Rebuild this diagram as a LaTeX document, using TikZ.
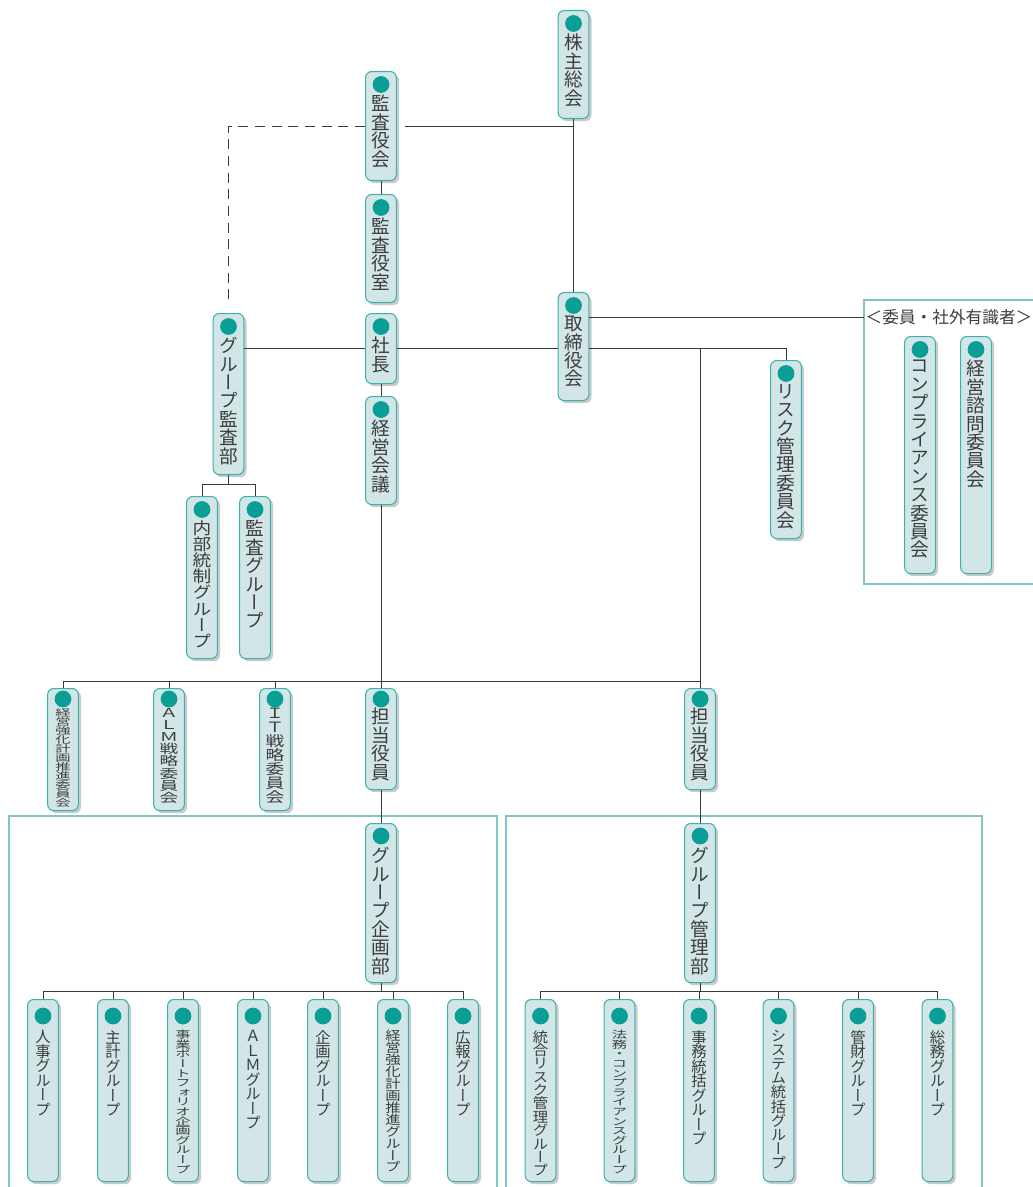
\documentclass[tikz,border=0pt]{standalone}
\usepackage{fontspec}
\usepackage{graphicx}
\usetikzlibrary{calc,shadows}
\newfontfamily\jp{Noto Sans CJK JP}
\newfontfamily\jpv[RawFeature=+vert]{Noto Sans CJK JP}
\definecolor{boxline}{HTML}{3DB1AB}
\definecolor{boxfill}{HTML}{D3E6E7}
\definecolor{dotc}{HTML}{0A9E97}
\definecolor{shadowc}{HTML}{C8CACB}
\definecolor{framec}{HTML}{7EC7C5}
\definecolor{linec}{HTML}{3A3A3A}
\definecolor{textc}{HTML}{3C3C3C}

% vertical text: one character per line
\def\tatenext#1{\ifx#1\relax\else\hbox to 1.2em{\hss#1\hss}\expandafter\tatenext\fi}
\newcommand\tate[2][1]{\scalebox{1}[#1]{\vbox{\lineskiplimit=-\maxdimen\expandafter\tatenext#2\relax}}}

% box with dot: [label opts]{name}{x}{top y}{height}{text}
\def\dotdrop{13.5}
\def\textdrop{24}
\newcommand\orgbox[6][]{%
  \node[box, minimum height={#5*0.75pt}, anchor=north] (#2) at (#3,#4) {};
  \fill[dotc] ($(#2.north)+(0,\dotdrop)$) circle (6.3pt);
  \node[lbl, anchor=north, #1] (#2-t) at ($(#2.north)+(0,\textdrop)$) {#6};
}

\begin{document}
\begin{tikzpicture}[x=0.75pt, y=-0.75pt,
  box/.style={draw=boxline, line width=0.8pt, fill=boxfill, rounded corners=4.5pt,
    minimum width=23pt, inner sep=0pt,
    drop shadow={shadow xshift=2pt, shadow yshift=-2pt, fill=shadowc, opacity=1}},
  lbl/.style={inner sep=0pt, text=textc, font=\jpv\fontsize{14}{13.8}\selectfont},
  small/.style={font=\jpv\fontsize{11.5}{10.9}\selectfont},
  conn/.style={draw=linec, line width=0.6pt},
  frame/.style={draw=framec, line width=1.1pt},
  ttl/.style={inner sep=1pt, text=textc, font=\jp\fontsize{12.5}{14}\selectfont}
]
\useasboundingbox (0,0) rectangle (1032,1187);

% frames
\draw[frame] (1040,300) -- (864,300) -- (864,584) -- (1040,584);
\draw[frame] (9,1195) -- (9,816) -- (497,816) -- (497,1195);
\draw[frame] (506,1195) -- (506,816) -- (982,816) -- (982,1195);
\node[ttl] (iintitle) at (949,317) {＜委員・社外有識者＞};
\coordinate (panel) at (864,317);

% top
\orgbox{kabu}{573.5}{10}{108}{\tate{株主総会}}
\orgbox{kansakai}{381}{71}{109}{\tate{監査役会}}
\orgbox{kansashitsu}{381}{194}{108}{\tate{監査役室}}
\orgbox{shacho}{381}{313}{70}{\tate{社長}}
\orgbox{keieikaigi}{381}{396}{108}{\tate{経営会議}}
\orgbox{torishimari}{573.5}{292}{108}{\tate{取締役会}}
\orgbox{gkansa}{228.5}{313}{161}{\tate{グループ監査部}}
\orgbox{naibu}{202}{496}{162}{\tate[.88]{内部統制グループ}}
\orgbox{kansag}{255}{496}{162}{\tate{監査グループ}}
\orgbox{risk}{786}{360}{178}{\tate{リスク管理委員会}}
\orgbox{comp}{920}{336}{237}{\tate{コンプライアンス委員会}}
\orgbox{shimon}{976}{336}{237}{\tate{経営諮問委員会}}

% committees
\def\dotdrop{11}
\def\textdrop{20}
\orgbox[small]{kyoka}{63}{688}{122}{\tate[.62]{経営強化計画推進委員会}}
\orgbox{almiin}{169}{688}{122}{\tate[.66]{ＡＬＭ戦略委員会}}
\orgbox{itiin}{275}{688}{122}{\tate[.76]{ＩＴ戦略委員会}}
\orgbox{tanto1}{381}{688}{101}{\tate{担当役員}}
\orgbox{tanto2}{700}{688}{101}{\tate{担当役員}}

\def\dotdrop{13}
\def\textdrop{24}
\orgbox{kikaku}{381}{823}{159}{\tate{グループ企画部}}
\orgbox{kanri}{700}{823}{159}{\tate{グループ管理部}}

% groups
\def\dotdrop{17}
\def\textdrop{31}
\foreach \n/\x/\s/\t in {l1/43/1/人事グループ, l2/113/1/主計グループ,
    l3/183/.66/事業ポートフォリオ企画グループ, l4/253/1/ＡＬＭグループ,
    l5/323/1/企画グループ, l6/393/.82/経営強化計画推進グループ, l7/463/1/広報グループ,
    r1/540.5/.92/統合リスク管理グループ, r2/619.5/.66/法務・コンプライアンスグループ,
    r3/699/1/事務統括グループ, r4/778.5/.97/システム統括グループ,
    r5/858/1/管財グループ, r6/937.5/1/総務グループ}
  \orgbox[small]{\n}{\x}{999}{182}{\tate[\s]{\t}};

% connectors
\coordinate (jr) at (tanto2.north |- shacho.east);
\coordinate (bus) at (0,681);
\coordinate (gbus) at (0,484);
\coordinate (busL) at (0,991);
\draw[conn] (kabu.south) -- (torishimari.north);
\draw[conn] ([xshift=6pt]kansakai.east) -- (kabu.south |- kansakai.east);
\draw[conn, dash pattern=on 7.5pt off 5pt] (kansakai.west) -| ([yshift=6pt]gkansa.north);
\draw[conn] (kansakai.south) -- (kansashitsu.north);
\draw[conn] (shacho.south) -- (keieikaigi.north);
\draw[conn] (gkansa.east |- shacho.west) -- (shacho.west);
\draw[conn] (shacho.east) -- (torishimari.west |- shacho.east);
\draw[conn] (torishimari.east |- shacho.east) -| (risk.north);
\draw[conn] (torishimari.east |- panel) -- (panel);
\draw[conn] (jr) -- (tanto2.north);
\draw[conn] (gkansa.south) -- (gkansa.south |- gbus);
\draw[conn] (naibu.north) |- (kansag.north |- gbus) -- (kansag.north);
\draw[conn] (keieikaigi.south) -- (tanto1.north);
\draw[conn] (kyoka.north) |- (jr |- bus);
\draw[conn] (almiin.north) -- (almiin.north |- bus);
\draw[conn] (itiin.north) -- (itiin.north |- bus);
\draw[conn] (tanto1.south) -- (kikaku.north);
\draw[conn] (tanto2.south) -- (kanri.north);
\draw[conn] (kikaku.south) -- (kikaku.south |- busL);
\draw[conn] (kanri.south) -- (kanri.south |- busL);
\draw[conn] (l1.north) |- (l7.north |- busL) -- (l7.north);
\draw[conn] (r1.north) |- (r6.north |- busL) -- (r6.north);
\foreach \n in {l2,l3,l4,l5,l6,r2,r3,r4,r5}
  \draw[conn] (\n.north) -- (\n.north |- busL);
\end{tikzpicture}
\end{document}
